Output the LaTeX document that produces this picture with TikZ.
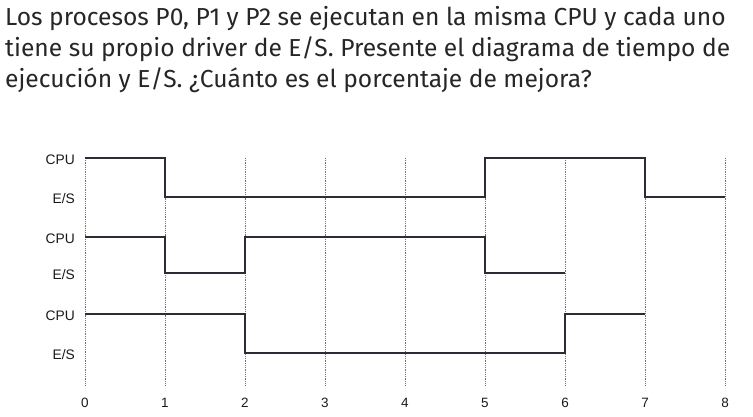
\documentclass[tikz,border=0pt]{standalone}
\usepackage{fontspec}
\setmainfont{Fira Sans}
\newfontfamily\labfont{Liberation Sans}
\begin{document}
\begin{tikzpicture}[x=1pt,y=-1pt,
  title/.style={anchor=base west,inner sep=0pt,font=\fontsize{24.6}{28}\selectfont,text=black!85},
  rowlab/.style={anchor=east,inner sep=0pt,font=\labfont\fontsize{13.8}{15}\selectfont,text=black!90},
  ticklab/.style={anchor=center,inner sep=0pt,font=\labfont\fontsize{13.5}{15}\selectfont,text=black!90},
  wave/.style={line width=2.8pt,draw={rgb,255:red,43;green,45;blue,54},line join=miter},
  grid/.style={line width=0.9pt,draw=black!55,dash pattern=on 1pt off 0.8pt}]
\useasboundingbox (0,0) rectangle (753,417);
% title
\node[title] (t1) at (5,26) {Los procesos P0, P1 y P2 se ejecutan en la misma CPU y cada uno};
\node[title] (t2) at (5,57) {tiene su propio driver de E/S. Presente el diagrama de tiempo de};
\node[title] (t3) at (5,88) {ejecución y E/S. ¿Cuánto es el porcentaje de mejora?};
% grid lines and ticks
\foreach \i in {0,...,8}{
  \draw[grid] ({85+80*\i},158) -- ({85+80*\i},386);
  \node[ticklab] (k\i) at ({85+80*\i},403) {\i};
}
% row labels
\node[rowlab] (c1) at (75,160) {CPU};
\node[rowlab] (e1) at (75,199) {E/S};
\node[rowlab] (c2) at (75,239) {CPU};
\node[rowlab] (e2) at (75,275) {E/S};
\node[rowlab] (c3) at (75,316) {CPU};
\node[rowlab] (e3) at (75,355) {E/S};
% P0
\draw[wave] (85,158) -- (165,158) -- (165,197) -- (485,197) -- (485,158) -- (645,158) -- (645,197) -- (725,197);
% P1
\draw[wave] (85,237) -- (165,237) -- (165,273) -- (245,273) -- (245,237) -- (485,237) -- (485,273) -- (565,273);
% P2
\draw[wave] (85,314) -- (245,314) -- (245,353) -- (565,353) -- (565,314) -- (645,314);
\end{tikzpicture}
\end{document}
